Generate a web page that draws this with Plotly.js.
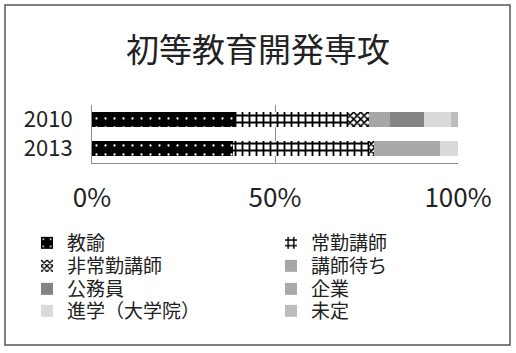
<!DOCTYPE html>
<html>
<head>
<meta charset="utf-8">
<script src="https://cdn.plot.ly/plotly-3.0.1.min.js"></script>
<style>
  html, body { margin: 0; padding: 0; background: #fff; }
  #chart { width: 516px; height: 353px; }
</style>
</head>
<body>
<div id="chart"></div>
<script>
// Graduates' career paths by year (share of each destination)
const years = ['2010', '2013'];
const categories = ['教諭', '常勤講師', '非常勤講師', '講師待ち', '公務員', '企業', '進学（大学院）', '未定'];

const kyouyu      = [0.390, 0.385];
const joukin      = [0.310, 0.371];
const hijoukin    = [0.057, 0.014];
const koushimachi = [0.057, 0.000];
const koumuin     = [0.093, 0.000];
const kigyou      = [0.000, 0.180];
const shingaku    = [0.073, 0.050];
const mitei       = [0.020, 0.000];

const seriesValues = [kyouyu, joukin, hijoukin, koushimachi, koumuin, kigyou, shingaku, mitei];

// Fill style per destination
const styles = [
  { bg: '#000000', shape: '.', fg: '#ffffff', size: 9, sol: 0.05 },
  { bg: '#ffffff', shape: '+', fg: '#000000', size: 7, sol: 0.45 },
  { bg: '#ffffff', shape: 'x', fg: '#000000', size: 5, sol: 0.55 },
  { bg: '#a6a6a6', shape: '' },
  { bg: '#848484', shape: '' },
  { bg: '#a9a9a9', shape: '' },
  { bg: '#dadada', shape: '' },
  { bg: '#bcbcbc', shape: '' }
];

const W = 516, H = 353;
const M = { l: 92, r: 58, t: 105, b: 190, autoexpand: false };
const PW = W - M.l - M.r, PH = H - M.t - M.b;
const px = v => (v - M.l) / PW;
const py = v => (H - M.b - v) / PH;

const font = '"Noto Sans CJK JP", "Noto Sans", sans-serif';

// Legend laid out in two columns, filled row by row; one legend box per entry
const colX = [27, 271];
const rowY = [243, 266, 289, 311];
const legendIds = categories.map((_, i) => i === 0 ? 'legend' : 'legend' + (i + 1));

const traces = categories.map((name, i) => {
  const s = styles[i];
  const marker = { color: s.bg, line: { width: 0 } };
  if (s.shape) {
    marker.pattern = { shape: s.shape, fgcolor: s.fg, bgcolor: s.bg, size: s.size, solidity: s.sol, fillmode: 'replace' };
  }
  return {
    type: 'bar',
    orientation: 'h',
    name: name,
    y: years,
    x: seriesValues[i],
    marker: marker,
    legend: legendIds[i],
    hoverinfo: 'name+x'
  };
});

const layout = {
  width: W,
  height: H,
  margin: M,
  paper_bgcolor: '#ffffff',
  plot_bgcolor: '#ffffff',
  barmode: 'stack',
  bargap: 0.45,
  font: { family: font, color: '#222222' },
  title: {
    text: '初等教育開発専攻',
    font: { family: font, size: 33, color: '#222222' },
    x: 0.5, xanchor: 'center',
    y: 1 - 50 / H, yanchor: 'middle', yref: 'container'
  },
  xaxis: {
    range: [0, 1],
    tickvals: [0, 0.5, 1],
    tickformat: '.0%',
    showgrid: true,
    gridcolor: '#8c8c8c',
    gridwidth: 1,
    showline: true,
    linecolor: '#8c8c8c',
    linewidth: 1,
    zeroline: false,
    ticks: '',
    ticklabelstandoff: 12,
    tickfont: { family: font, size: 26, color: '#222222' },
    automargin: false,
    fixedrange: true
  },
  yaxis: {
    type: 'category',
    categoryorder: 'array',
    categoryarray: years,
    autorange: 'reversed',
    showline: true,
    linecolor: '#8c8c8c',
    linewidth: 1,
    showgrid: false,
    ticks: '',
    ticklabelstandoff: 14,
    tickfont: { family: font, size: 22, color: '#222222' },
    automargin: false,
    fixedrange: true
  },
  showlegend: true,
  shapes: [
    {
      type: 'rect', xref: 'paper', yref: 'paper',
      x0: px(5), x1: px(510), y0: py(345), y1: py(5),
      line: { color: '#555555', width: 1.5 },
      fillcolor: 'rgba(0,0,0,0)',
      layer: 'below'
    }
  ]
};

legendIds.forEach((id, i) => {
  layout[id] = {
    orientation: 'v',
    xref: 'container', yref: 'container',
    x: colX[i % 2] / W, xanchor: 'left',
    y: 1 - rowY[Math.floor(i / 2)] / H, yanchor: 'middle',
    font: { family: font, size: 19, color: '#222222' },
    itemwidth: 30,
    bgcolor: 'rgba(0,0,0,0)',
    borderwidth: 0
  };
});

Plotly.newPlot('chart', traces, layout, { displayModeBar: false, staticPlot: true });
</script>
</body>
</html>
